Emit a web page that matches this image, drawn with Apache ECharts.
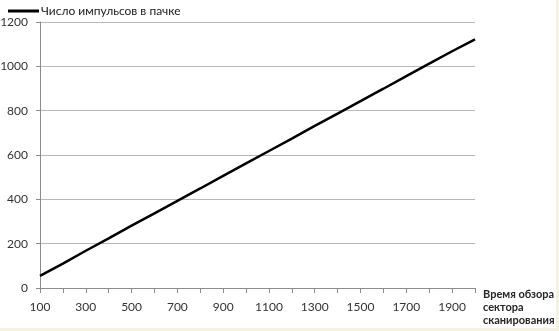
<!DOCTYPE html>
<html>
<head>
<meta charset="utf-8">
<script src="https://cdn.jsdelivr.net/npm/echarts@6/dist/echarts.min.js"></script>
<style>
  html, body { margin: 0; padding: 0; background: #f6f2e2; }
  #chart { width: 556px; height: 328px; background: #ffffff; }
</style>
</head>
<body>
<div id="chart"></div>
<script>
// Scan time of the sector (categories) and pulses per burst
const scanTimes = ['100','200','300','400','500','600','700','800','900','1000',
                   '1100','1200','1300','1400','1500','1600','1700','1800','1900','2000'];
const pulsesPerBurst = [55, 110, 168, 224, 281, 337, 393, 449, 506, 562,
                        618, 674, 731, 787, 843, 899, 956, 1012, 1068, 1122];
const yTicks = { min: 0, max: 1200, step: 200 };
const seriesName = 'Число импульсов в пачке';
const xAxisTitle = 'Время обзора\nсектора\nсканирования';

const font = 'Lato, "Open Sans", sans-serif';
const chart = echarts.init(document.getElementById('chart'), null, { renderer: 'canvas' });

chart.setOption({
  animation: false,
  backgroundColor: '#ffffff',
  textStyle: { fontFamily: font },
  legend: {
    left: 3, top: 0,
    itemWidth: 31, itemHeight: 3, itemGap: 4,
    icon: 'rect',
    textStyle: { fontFamily: font, fontSize: 12, color: '#1a1a1a', padding: [0, 0, 0, -3] },
    data: [seriesName]
  },
  grid: { left: 40, right: 81, top: 22, bottom: 40, containLabel: false, outerBoundsMode: 'none' },
  xAxis: {
    type: 'category',
    data: scanTimes,
    boundaryGap: false,
    name: xAxisTitle,
    nameLocation: 'end',
    nameGap: 8,
    nameTextStyle: {
      fontFamily: font, fontSize: 11, fontWeight: 'bold', color: '#262626',
      align: 'left', verticalAlign: 'top', lineHeight: 13, padding: [0, 0, 0, 0]
    },
    axisLine: { lineStyle: { color: '#8c8c8c', width: 1 } },
    axisTick: { show: true, interval: 0, length: 5, lineStyle: { color: '#8c8c8c' } },
    axisLabel: { interval: 1, margin: 13, fontFamily: font, fontSize: 12, color: '#333333' },
    splitLine: { show: false }
  },
  yAxis: {
    type: 'value',
    min: yTicks.min, max: yTicks.max, interval: yTicks.step,
    axisLine: { show: true, lineStyle: { color: '#8c8c8c', width: 1 } },
    axisTick: { show: true, length: 4, lineStyle: { color: '#8c8c8c' } },
    axisLabel: { margin: 12, fontFamily: font, fontSize: 12, color: '#333333',
                 formatter: v => String(v) },
    splitLine: { show: true, lineStyle: { color: '#b8b8b8', width: 1 } }
  },
  series: [{
    name: seriesName,
    type: 'line',
    data: pulsesPerBurst,
    showSymbol: false,
    symbol: 'none',
    lineStyle: { color: '#000000', width: 2.5 },
    itemStyle: { color: '#000000' }
  }]
});
</script>
</body>
</html>
